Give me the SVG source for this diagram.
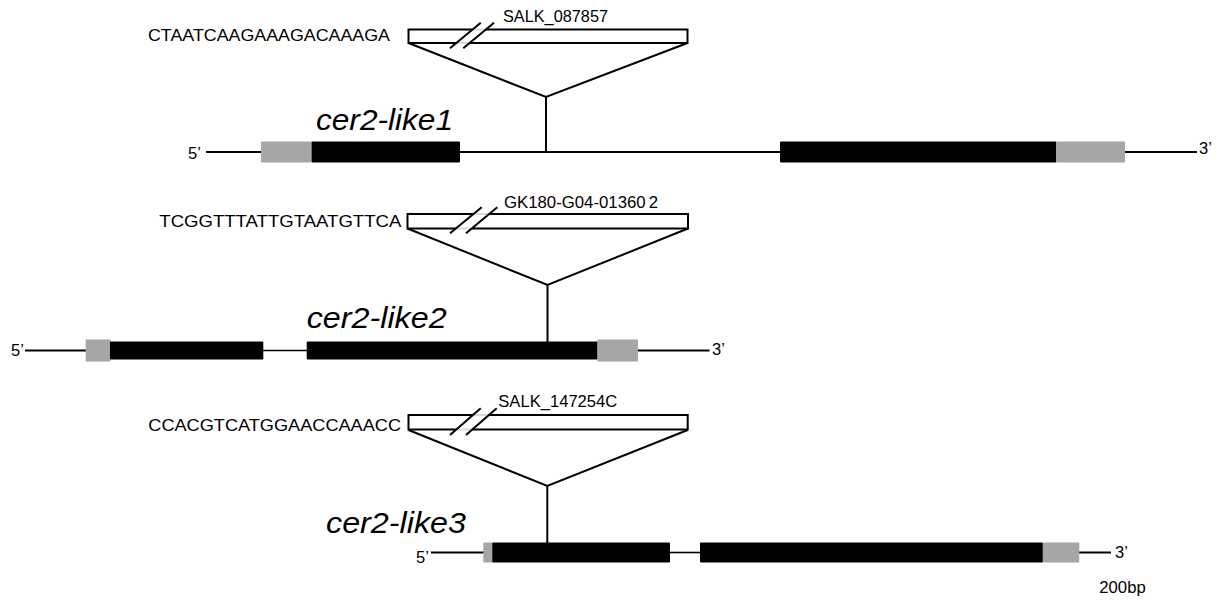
<svg xmlns="http://www.w3.org/2000/svg" width="1217" height="600" viewBox="0 0 1217 600">
<style>
.t{font-family:"Liberation Sans",Arial,sans-serif;fill:#000}
.seq{font-size:17px}
.lab{font-size:16.5px}
.gn{font-size:30px;font-style:italic}
.end{font-size:16.5px}
.ln{stroke:#000;stroke-width:2;fill:none}
.in{stroke:#000;stroke-width:1.6;fill:none}
.ex{fill:#000}
.utr{fill:#a6a6a6}
.ins{fill:#fff;stroke:#000;stroke-width:2}
.brk{fill:#fff;fill-opacity:0.85;stroke:none}
.sl{stroke:#000;stroke-width:2}
</style>
<rect width="1217" height="600" fill="#fff"/>

<g id="connectors">
  <polyline class="ln" points="408.5,43 546,97 687.5,43"/>
  <line class="ln" x1="546" y1="97" x2="546" y2="152"/>
  <polyline class="ln" points="407.5,228.5 547.5,285 688,228.5"/>
  <line class="ln" x1="547.5" y1="285" x2="547.5" y2="342"/>
  <polyline class="ln" points="408.5,430 547.3,486 687.7,430"/>
  <line class="ln" x1="547.3" y1="486" x2="547.3" y2="543"/>
</g>

<g id="insertion1">
  <rect class="ins" x="408.5" y="29.5" width="279" height="13.5"/>
  <polygon class="brk" points="450,48.3 480.7,22.7 494,22.7 463.3,48.3"/>
  <line class="sl" x1="450" y1="48.3" x2="480.7" y2="22.7"/>
  <line class="sl" x1="463.3" y1="48.3" x2="494" y2="22.7"/>
  <text class="t seq" x="148" y="41" textLength="242" lengthAdjust="spacingAndGlyphs">CTAATCAAGAAAGACAAAGA</text>
  <text class="t lab" x="503" y="21.7" textLength="105" lengthAdjust="spacingAndGlyphs">SALK_087857</text>
</g>

<g id="gene1">
  <line class="ln" x1="206" y1="152" x2="262" y2="152"/>
  <line class="ln" x1="460" y1="152" x2="780" y2="152"/>
  <line class="ln" x1="1124" y1="152" x2="1197" y2="152"/>
  <rect class="utr" x="261" y="141.5" width="51" height="21" rx="1"/>
  <rect class="ex" x="311.7" y="141.5" width="148.3" height="21" rx="1"/>
  <rect class="ex" x="780" y="141.5" width="276.5" height="21" rx="1"/>
  <rect class="utr" x="1056" y="141.5" width="69" height="21" rx="1"/>
  <text class="t end" x="188" y="158.5">5’</text>
  <text class="t end" x="1199" y="154">3’</text>
  <text class="t gn" x="316" y="130" textLength="137" lengthAdjust="spacingAndGlyphs">cer2-like1</text>
</g>

<g id="insertion2">
  <rect class="ins" x="407.5" y="214" width="280.5" height="14.5"/>
  <polygon class="brk" points="450,233.3 481.7,207.3 497.3,207.3 466,233.3"/>
  <line class="sl" x1="450" y1="233.3" x2="481.7" y2="207.3"/>
  <line class="sl" x1="466" y1="233.3" x2="497.3" y2="207.3"/>
  <text class="t seq" x="159.3" y="226.7" textLength="242" lengthAdjust="spacingAndGlyphs">TCGGTTTATTGTAATGTTCA</text>
  <text class="t lab" x="504" y="208.3" textLength="154" lengthAdjust="spacingAndGlyphs">GK180-G04-01360<tspan dx="3">2</tspan></text>
</g>

<g id="gene2">
  <line class="ln" x1="25" y1="350.5" x2="86" y2="350.5"/>
  <line class="in" x1="263" y1="350.5" x2="307" y2="350.5"/>
  <line class="ln" x1="638" y1="350.5" x2="709.5" y2="350.5"/>
  <rect class="utr" x="85.7" y="339.5" width="25" height="22" rx="1"/>
  <rect class="ex" x="110" y="341.5" width="153.3" height="18" rx="1"/>
  <rect class="ex" x="306.7" y="341.5" width="291" height="18" rx="1"/>
  <rect class="utr" x="597.3" y="339.5" width="40.7" height="22" rx="1"/>
  <text class="t end" x="11" y="356">5’</text>
  <text class="t end" x="712" y="354.5">3’</text>
  <text class="t gn" x="306.7" y="327.7" textLength="140" lengthAdjust="spacingAndGlyphs">cer2-like2</text>
</g>

<g id="insertion3">
  <rect class="ins" x="408.5" y="415" width="279.2" height="14.5"/>
  <polygon class="brk" points="450,435 480.7,408.3 496.7,408.3 466,435"/>
  <line class="sl" x1="450" y1="435" x2="480.7" y2="408.3"/>
  <line class="sl" x1="466" y1="435" x2="496.7" y2="408.3"/>
  <text class="t seq" x="148.3" y="430.7" textLength="252.7" lengthAdjust="spacingAndGlyphs">CCACGTCATGGAACCAAACC</text>
  <text class="t lab" x="498.3" y="407" textLength="119" lengthAdjust="spacingAndGlyphs">SALK_147254C</text>
</g>

<g id="gene3">
  <line class="ln" x1="431" y1="552.5" x2="484" y2="552.5"/>
  <line class="in" x1="670" y1="552.5" x2="700" y2="552.5"/>
  <line class="ln" x1="1079" y1="552.5" x2="1111" y2="552.5"/>
  <rect class="utr" x="483.3" y="542.5" width="9.5" height="20" rx="1"/>
  <rect class="ex" x="492.3" y="542.5" width="177.7" height="20" rx="1"/>
  <rect class="ex" x="700" y="542.5" width="343" height="20" rx="1"/>
  <rect class="utr" x="1042.7" y="542.5" width="36.6" height="20" rx="1"/>
  <text class="t end" x="416" y="563">5’</text>
  <text class="t end" x="1115" y="557.5">3’</text>
  <text class="t gn" x="326" y="532.7" textLength="140" lengthAdjust="spacingAndGlyphs">cer2-like3</text>
</g>

<g id="scale">
  <text class="t lab" x="1099.3" y="593.3" textLength="46.4" lengthAdjust="spacingAndGlyphs">200bp</text>
</g>
</svg>
